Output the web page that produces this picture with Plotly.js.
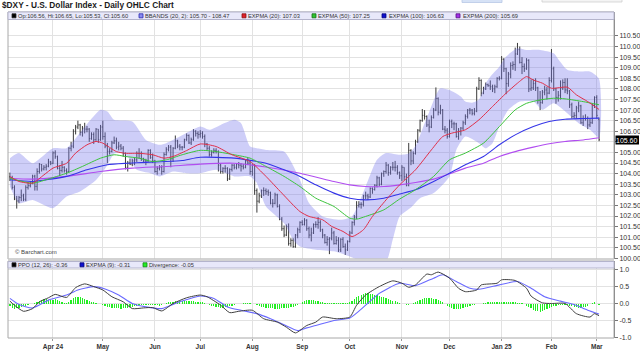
<!DOCTYPE html>
<html><head><meta charset="utf-8">
<script src="https://cdn.plot.ly/plotly-3.0.1.min.js"></script>
<style>html,body{margin:0;padding:0;background:#fff;}#chart{width:640px;height:351px;}</style>
</head><body><div id="chart"></div>
<script>
// Trading-day index: 0 = Apr 1 2024, first bar (-19) = Mar 5 2024, last bar (241) = Mar 4 2025
const firstIdx = -19;
const monthTickIdx = [0,22,45,65,88,110,131,154,175,198,220,240];
const monthTickText = ["Apr 24","May","Jun","Jul","Aug","Sep","Oct","Nov","Dec","Jan 25","Feb","Mar"];
const priceTicks = [100,100.5,101,101.5,102,102.5,103,103.5,104,104.5,105,105.5,106,106.5,107,107.5,108,108.5,109,109.5,110,110.5];
const ppoTicks = [-1,-0.5,0,0.5,1];

const open = [
103.85,103.80,103.35,102.80,102.71,102.87,102.95,102.79,103.35,103.43,103.58,103.88,103.40,104.10,104.43,104.22,104.30,104.35,104.55,
104.49,104.98,104.80,104.25,104.15,104.30,104.15,104.10,105.20,105.30,106.00,106.20,106.30,105.95,106.15,106.10,106.10,105.65,105.85,105.60,106.10,105.60,
106.20,105.75,105.30,105.05,105.05,105.45,105.55,105.25,105.30,105.20,104.95,104.30,104.50,104.45,104.60,104.65,104.95,104.95,104.70,104.60,104.60,105.10,104.75,
104.60,104.10,104.25,104.30,104.10,104.90,105.15,105.25,104.70,105.20,105.55,105.30,105.25,105.25,105.60,105.80,105.45,105.60,106.00,105.90,
105.85,105.90,105.75,105.40,105.20,104.90,105.00,105.10,105.05,104.40,104.10,104.25,104.25,103.75,104.20,104.40,104.30,104.45,104.40,104.35,104.30,104.60,104.50,
104.10,104.40,103.20,102.70,102.95,103.20,103.20,103.15,103.10,102.60,102.60,103.00,102.45,101.85,101.40,101.10,101.50,100.70,100.85,100.55,101.10,101.35,
101.70,101.60,101.80,101.40,101.10,101.20,101.60,101.60,101.70,101.35,101.10,100.75,100.90,100.95,101.20,100.70,100.85,100.40,100.90,100.55,100.40,
100.80,101.20,101.70,101.95,102.50,102.55,102.55,102.95,102.95,102.90,103.30,103.25,103.45,103.80,103.50,104.00,104.10,104.40,104.05,104.30,104.30,104.30,104.05,
103.90,104.30,103.85,103.45,105.10,104.60,104.95,105.50,106.05,106.50,106.75,106.70,106.30,106.20,106.65,107.00,107.55,106.90,107.00,106.10,106.05,
105.75,106.45,106.35,106.35,105.75,106.00,106.15,106.40,106.70,107.00,107.00,106.85,106.95,108.00,108.40,107.80,108.00,108.20,108.15,108.10,108.00,108.10,
108.50,108.50,109.40,108.95,108.25,108.70,109.10,109.15,109.65,109.85,109.25,109.05,108.95,109.35,108.00,108.05,108.25,108.05,107.45,107.35,107.85,107.95,107.80,
108.40,108.95,108.00,107.60,107.70,108.05,108.30,107.95,107.90,107.25,106.70,106.75,107.10,107.20,106.40,106.60,106.60,106.30,106.40,107.25,
107.60,106.56];
const high = [
104.05,103.90,103.45,102.95,102.95,103.25,103.05,103.45,103.60,103.65,103.95,103.95,104.25,104.50,104.45,104.40,104.45,104.70,104.60,
105.05,105.10,104.85,104.40,104.60,104.35,104.25,105.25,105.50,106.10,106.30,106.50,106.35,106.25,106.40,106.25,106.15,105.95,105.95,106.15,106.10,106.30,
106.50,105.95,105.45,105.20,105.55,105.75,105.70,105.50,105.40,105.30,105.00,104.60,104.70,104.70,104.75,105.05,105.20,105.05,104.75,104.70,105.15,105.15,104.95,
104.65,104.35,104.40,104.40,105.00,105.25,105.35,105.35,105.25,105.80,105.60,105.40,105.30,105.65,105.90,105.85,105.70,106.10,106.05,106.00,
106.05,106.00,105.85,105.45,105.30,105.10,105.20,105.20,105.10,104.50,104.30,104.40,104.30,104.25,104.45,104.45,104.50,104.55,104.50,104.45,104.65,104.75,104.60,
104.45,104.45,103.30,103.10,103.25,103.35,103.30,103.25,103.15,102.80,103.10,103.05,102.55,101.95,101.55,101.60,101.65,100.95,100.95,101.15,101.45,101.75,
101.80,101.90,101.85,101.50,101.45,101.65,101.75,101.95,101.80,101.40,101.15,101.05,101.00,101.45,101.30,101.05,101.00,100.95,101.00,100.70,100.85,
101.30,101.75,102.05,102.70,102.70,102.65,103.00,103.15,103.05,103.35,103.35,103.50,103.90,103.85,104.05,104.15,104.55,104.45,104.35,104.55,104.60,104.40,104.10,
104.40,104.30,104.00,105.45,105.15,105.05,105.60,106.10,106.55,107.05,107.00,106.75,106.55,106.75,107.10,108.07,107.60,107.25,107.05,106.25,106.15,
106.55,106.55,106.45,106.40,106.15,106.20,106.50,106.80,107.05,107.10,107.05,107.10,108.10,108.55,108.45,108.10,108.30,108.25,108.40,108.20,108.20,108.55,
108.60,109.55,109.45,109.00,108.80,109.25,109.30,109.95,110.17,110.00,109.50,109.20,109.45,109.40,108.45,108.45,108.50,108.10,107.90,107.95,108.15,108.10,108.55,
109.88,109.05,108.05,107.90,108.40,108.45,108.50,108.50,107.95,107.35,106.90,107.20,107.40,107.25,106.75,106.80,106.70,106.60,107.30,107.65,
107.70,106.65];
const low = [
103.65,103.25,102.75,102.35,102.60,102.70,102.70,102.70,103.25,103.35,103.50,103.20,103.20,104.00,104.10,104.15,104.15,104.30,104.40,
104.45,104.70,104.20,103.90,104.05,104.05,103.95,104.05,105.05,105.20,105.85,106.10,105.80,105.75,105.90,105.95,105.50,105.60,105.40,105.55,105.45,105.55,
105.60,105.20,104.50,104.90,105.00,105.40,105.15,105.10,105.10,104.80,104.20,104.10,104.40,104.35,104.40,104.55,104.70,104.60,104.50,104.40,104.55,104.70,104.50,
104.05,103.95,104.15,103.95,104.05,104.85,105.05,104.30,104.55,105.15,105.20,105.10,105.10,105.20,105.55,105.40,105.35,105.55,105.75,105.65,
105.70,105.65,105.25,105.10,104.80,104.80,104.95,104.95,104.10,104.00,104.00,104.05,103.65,103.70,104.10,104.20,104.20,104.25,104.10,104.20,104.25,104.40,103.95,
103.90,103.00,102.16,102.60,102.85,102.95,103.00,102.95,102.55,102.40,102.55,102.40,101.80,101.30,101.00,101.05,100.60,100.55,100.50,100.50,100.95,101.20,
101.55,101.55,101.30,100.95,100.80,101.15,101.45,101.40,101.25,100.95,100.70,100.60,100.20,100.85,100.65,100.65,100.30,100.30,100.50,100.16,100.35,
100.75,101.15,101.55,101.85,102.40,102.35,102.45,102.80,102.75,102.85,103.05,103.20,103.35,103.40,103.45,103.85,104.00,103.90,103.95,104.15,104.10,103.95,103.75,
103.65,103.70,103.40,103.40,104.40,104.45,104.90,105.45,105.95,106.45,106.55,106.20,105.95,106.15,106.60,106.95,106.75,106.80,106.05,105.90,105.65,
105.70,106.15,106.05,105.70,105.60,105.80,106.05,106.30,106.60,106.80,106.75,106.75,106.90,107.95,107.65,107.75,107.95,108.10,107.95,107.85,107.80,108.05,
108.40,108.45,108.80,107.75,108.10,108.50,108.90,108.85,109.60,109.20,108.70,108.80,108.90,107.85,107.90,107.95,107.90,107.30,107.00,107.30,107.70,107.50,107.75,
108.30,107.90,107.30,107.40,107.50,107.95,107.80,107.75,107.10,106.60,106.60,106.60,106.90,106.35,106.25,106.50,106.10,106.20,106.35,107.10,
106.60,105.53];
const close = [
103.80,103.35,102.80,102.71,102.87,102.95,102.79,103.35,103.43,103.58,103.88,103.40,104.10,104.43,104.22,104.30,104.35,104.55,104.49,
104.98,104.80,104.25,104.15,104.30,104.15,104.10,105.20,105.30,106.00,106.20,106.30,105.95,106.15,106.10,106.10,105.65,105.85,105.60,106.10,105.60,106.20,
105.75,105.30,105.05,105.05,105.45,105.55,105.25,105.30,105.20,104.95,104.30,104.50,104.45,104.60,104.65,104.95,104.95,104.70,104.60,104.60,105.10,104.75,104.60,
104.10,104.25,104.30,104.10,104.90,105.15,105.25,104.70,105.20,105.55,105.30,105.25,105.25,105.60,105.80,105.45,105.60,106.00,105.90,105.85,
105.90,105.75,105.40,105.20,104.90,105.00,105.10,105.05,104.40,104.10,104.25,104.25,103.75,104.20,104.40,104.30,104.45,104.40,104.35,104.30,104.60,104.50,104.10,
104.40,103.20,102.70,102.95,103.20,103.20,103.15,103.10,102.60,102.60,103.00,102.45,101.85,101.40,101.10,101.50,100.70,100.85,100.55,101.10,101.35,101.70,
101.60,101.80,101.40,101.10,101.20,101.60,101.60,101.70,101.35,101.10,100.75,100.90,100.95,101.20,100.70,100.85,100.40,100.90,100.55,100.40,100.80,
101.20,101.70,101.95,102.50,102.55,102.55,102.95,102.95,102.90,103.30,103.25,103.45,103.80,103.50,104.00,104.10,104.40,104.05,104.30,104.30,104.30,104.05,103.90,
104.30,103.85,103.45,105.10,104.60,104.95,105.50,106.05,106.50,106.75,106.70,106.30,106.20,106.65,107.00,107.55,106.90,107.00,106.10,106.05,105.75,
106.45,106.35,106.35,105.75,106.00,106.15,106.40,106.70,107.00,107.00,106.85,106.95,108.00,108.40,107.80,108.00,108.20,108.15,108.10,108.00,108.10,108.50,
108.50,109.40,108.95,108.25,108.70,109.10,109.15,109.65,109.85,109.25,109.05,108.95,109.35,108.00,108.05,108.25,108.05,107.45,107.35,107.85,107.95,107.80,108.40,
108.95,108.00,107.60,107.70,108.05,108.30,107.95,107.90,107.25,106.70,106.75,107.10,107.20,106.40,106.60,106.60,106.30,106.40,107.25,107.60,
106.75,105.60];

// Indicator lines (x = trading-day index)
const ema20X = [-19,-15,-9,-4,0,6,10,15,19,22,28,32,38,44,49,53,59,65,72,79,87,94,101,109,113,119,123,128,132,137,141,147,153,160,167,172,176,182,188,194,200,205,209,212,216,220,227,231,236,241];
const ema20Y = [103.86,103.63,103.55,103.94,104.26,104.49,104.97,105.36,105.52,105.44,105.04,104.96,104.96,104.89,104.73,104.81,105.09,105.40,105.28,104.89,104.57,103.87,103.08,102.21,101.98,101.82,101.51,101.27,101.03,101.35,101.98,102.76,103.47,104.18,105.12,105.75,105.91,106.07,106.54,107.17,107.80,108.27,108.58,108.42,108.27,108.03,108.08,107.72,107.40,107.03];
const ema50X = [-19,-9,-1,6,13,21,27,32,38,44,50,57,65,72,80,87,94,102,109,116,124,131,134,138,146,153,160,168,175,182,190,197,204,209,215,221,226,234,241];
const ema50Y = [103.78,103.55,103.78,104.02,104.34,104.73,104.89,104.81,104.73,104.57,104.65,104.89,105.10,105.04,104.89,104.73,104.34,103.87,103.39,102.84,102.45,101.90,101.85,101.98,102.29,102.80,103.24,103.87,104.65,104.97,105.44,106.22,107.01,107.32,107.48,107.56,107.53,107.40,107.25];
const ema100X = [-19,-9,-1,6,15,24,33,41,50,57,65,80,94,102,109,116,124,131,138,146,153,160,168,175,182,190,197,204,212,219,226,234,241];
const ema100Y = [103.71,103.63,103.74,103.87,104.18,104.42,104.49,104.53,104.57,104.62,104.77,104.73,104.49,104.18,103.87,103.47,103.08,102.84,102.76,102.84,103.04,103.24,103.63,104.02,104.42,104.81,105.36,105.83,106.22,106.46,106.57,106.60,106.62];
const ema200X = [-19,-9,6,21,35,50,65,80,94,109,124,131,138,146,153,160,168,175,182,190,197,204,212,219,226,234,241];
const ema200Y = [103.78,103.74,103.87,104.10,104.26,104.34,104.45,104.49,104.31,104.02,103.63,103.47,103.39,103.39,103.47,103.58,103.74,103.99,104.26,104.49,104.81,105.04,105.25,105.41,105.52,105.59,105.69];
const bbUpX = [-19,-15,-9,0,6,13,21,24,27,35,41,47,50,56,65,69,74,80,83,87,90,94,102,109,113,119,127,132,138,143,147,153,157,160,163,166,169,171,175,180,182,185,188,191,194,197,200,205,209,215,221,223,227,232,237,241];
const bbUpY = [104.73,104.97,104.49,105.20,105.20,106.07,107.01,106.93,106.54,106.46,105.59,105.36,105.44,105.75,106.22,106.07,106.30,106.54,106.38,105.28,105.20,105.12,105.04,103.71,102.61,101.98,101.82,101.98,103.39,104.65,104.97,104.89,104.95,105.30,106.10,106.90,107.70,108.03,107.95,107.64,107.40,107.35,107.50,108.27,108.70,109.05,109.53,109.92,109.84,109.84,109.68,109.40,108.90,108.82,108.82,108.47];
const bbLoX = [-19,-15,-9,0,6,12,19,24,27,30,33,37,43,47,53,59,65,72,80,87,90,94,102,106,109,116,124,131,135,141,147,150,153,158,162,168,175,178,182,188,191,194,197,201,206,212,216,221,227,232,237,241];
const bbLoY = [103.39,102.61,102.76,102.37,102.92,103.16,103.70,104.40,104.95,104.98,104.80,104.18,104.02,103.87,104.10,104.02,104.02,104.18,103.87,103.87,103.55,102.45,101.66,100.88,100.56,100.41,100.33,100.09,99.90,99.75,99.85,100.90,101.98,102.40,102.84,103.08,103.87,105.12,105.75,105.44,105.20,105.44,106.22,107.01,107.40,107.40,107.01,107.32,106.85,106.38,106.07,105.70];
const ppoX = [-19,-17,-13,-9,-6,-2,1,6,10,14,18,22,26,31,35,40,44,48,53,59,65,68,74,78,82,88,93,99,103,107,112,116,119,125,131,134,138,144,150,154,157,160,165,167,170,175,179,182,187,189,196,198,204,209,211,216,220,226,231,237,239,241];
const ppoY = [0.07,-0.05,-0.23,-0.15,0.05,0.17,0.27,0.18,0.47,0.58,0.50,0.40,0.20,0.05,-0.15,-0.13,-0.12,-0.22,0.00,0.17,0.25,0.20,-0.05,-0.27,-0.23,-0.20,-0.45,-0.55,-0.70,-0.87,-0.65,-0.55,-0.40,-0.45,-0.40,-0.05,0.25,0.50,0.67,0.60,0.48,0.55,0.87,0.85,0.93,0.75,0.45,0.35,0.40,0.55,0.60,0.70,0.68,0.45,0.22,0.02,0.00,0.00,-0.30,-0.40,-0.30,-0.36];
const sigX = [-19,-15,-9,-2,6,11,18,23,29,35,41,48,56,65,71,77,83,90,96,102,108,112,116,124,131,138,144,153,160,168,172,178,184,188,197,205,211,217,224,230,236,241];
const sigY = [0.15,-0.03,-0.13,0.10,0.25,0.40,0.50,0.43,0.25,0.00,-0.10,-0.15,0.05,0.22,0.15,-0.10,-0.20,-0.30,-0.45,-0.63,-0.80,-0.72,-0.65,-0.50,-0.43,-0.05,0.30,0.60,0.53,0.75,0.85,0.65,0.45,0.42,0.55,0.65,0.45,0.20,0.07,-0.03,-0.20,-0.31];
const divergence = [
-0.08,-0.12,-0.15,-0.14,-0.12,-0.10,
-0.08,-0.06,-0.04,-0.02,-0.01,
0.02,0.05,0.08,0.10,0.12,0.12,0.11,0.10,0.11,0.12,0.10,
0.06,0.03,0.02,0.02,0.05,
0.10,0.15,0.18,0.20,0.19,0.17,0.14,0.10,0.08,
0.05,0.04,0.02,0.00,-0.02,
-0.04,-0.07,-0.10,-0.11,-0.12,-0.13,-0.13,-0.14,-0.15,-0.14,-0.13,-0.12,-0.10,-0.09,
-0.07,-0.06,-0.05,-0.05,-0.04,-0.04,-0.03,-0.03,-0.03,
-0.04,-0.05,-0.06,-0.05,-0.02,0.01,
0.03,0.04,0.05,0.06,0.07,0.07,0.08,0.08,0.08,0.07,0.07,0.06,0.05,0.05,0.04,0.03,0.02,
-0.01,-0.04,-0.06,-0.08,-0.10,-0.11,-0.12,-0.12,-0.11,-0.10,-0.08,-0.06,-0.04,
-0.02,-0.01,0.00,0.01,0.02,0.02,0.01,0.00,-0.02,
-0.05,-0.08,-0.10,-0.11,-0.12,-0.13,-0.14,-0.14,-0.15,-0.15,-0.15,-0.14,-0.13,-0.12,-0.12,-0.11,-0.10,-0.08,-0.05,
0.00,0.04,0.07,0.09,0.10,0.10,0.09,0.08,0.07,0.05,
0.03,0.02,0.02,0.01,0.01,0.01,0.02,0.02,0.02,0.02,0.02,0.02,0.04,
0.08,0.14,0.19,0.23,0.26,0.28,0.30,0.30,0.29,0.28,0.26,0.24,0.22,0.20,0.18,0.16,0.14,0.11,0.08,0.06,0.04,0.02,
0.00,-0.02,-0.04,-0.03,-0.01,0.01,0.04,
0.08,0.11,0.14,0.16,0.17,0.16,0.15,0.13,0.12,0.10,0.07,
0.03,-0.02,-0.06,-0.10,-0.13,-0.15,-0.16,-0.16,-0.15,-0.13,-0.11,-0.09,-0.07,-0.05,-0.04,-0.02,-0.01,0.00,0.01,
0.02,0.03,0.03,0.04,0.04,0.05,0.05,0.05,0.04,0.04,0.03,0.03,0.03,0.03,0.02,0.02,0.01,
-0.02,-0.06,-0.10,-0.14,-0.18,-0.21,-0.23,-0.24,-0.23,-0.20,-0.17,-0.14,-0.11,-0.08,-0.06,
-0.05,-0.04,-0.03,-0.03,-0.04,
-0.06,-0.08,-0.10,-0.11,-0.12,-0.12,-0.11,-0.09,-0.06,
-0.02,0.02,0.03,-0.01,-0.05];

const lastPrice = 105.60;

// ---------- build ----------
const idx = open.map((_, k) => firstIdx + k);
const PX = p => (p - 8) / 606;     // pixel -> paper x
const PY = p => (338 - p) / 326;   // pixel -> paper y
const FONT = 'Liberation Sans, Arial, sans-serif';

const bandX = bbUpX.concat(bbLoX.slice().reverse());
const bandY = bbUpY.concat(bbLoY.slice().reverse());

const traces = [
  {type:'scatter', x:bandX, y:bandY, mode:'lines', fill:'toself', fillcolor:'rgba(120,120,235,0.36)',
   line:{width:0, shape:'spline', smoothing:0.6}, xaxis:'x', yaxis:'y', hoverinfo:'skip'},
  {type:'scatter', x:ema200X, y:ema200Y, mode:'lines', line:{color:'#b14df0', width:1.1, shape:'spline', smoothing:0.6}, xaxis:'x', yaxis:'y'},
  {type:'scatter', x:ema100X, y:ema100Y, mode:'lines', line:{color:'#3434e8', width:1.1, shape:'spline', smoothing:0.6}, xaxis:'x', yaxis:'y'},
  {type:'scatter', x:ema50X, y:ema50Y, mode:'lines', line:{color:'#3cc43c', width:1, shape:'spline', smoothing:0.6}, xaxis:'x', yaxis:'y'},
  {type:'scatter', x:ema20X, y:ema20Y, mode:'lines', line:{color:'#e0304a', width:1, shape:'spline', smoothing:0.6}, xaxis:'x', yaxis:'y'},
  {type:'ohlc', x:idx, open:open, high:high, low:low, close:close, tickwidth:0.35,
   increasing:{line:{color:'#3a3a3a', width:1}}, decreasing:{line:{color:'#3a3a3a', width:1}},
   xaxis:'x', yaxis:'y', hoverinfo:'skip'},
  {type:'bar', x:idx, y:divergence, width:0.55, marker:{color:'#22ee22', line:{width:0}}, xaxis:'x', yaxis:'y2'},
  {type:'scatter', x:sigX, y:sigY, mode:'lines', line:{color:'#6a6aff', width:1.1, shape:'spline', smoothing:0.6}, xaxis:'x', yaxis:'y2'},
  {type:'scatter', x:ppoX, y:ppoY, mode:'lines', line:{color:'#404040', width:1, shape:'spline', smoothing:0.6}, xaxis:'x', yaxis:'y2'}
];

const shapes = [];
const rectPx = (x0,y0,x1,y1,fill,lineColor,lw,layer) => shapes.push({type:'rect', xref:'paper', yref:'paper',
  x0:PX(x0), x1:PX(x1), y0:PY(y1), y1:PY(y0), fillcolor:fill, line:{color:lineColor||fill, width:lw===undefined?1:lw}, layer:layer||'above'});

// panel frames, separator and legend strips
rectPx(8,12,614,259,'rgba(0,0,0,0)','#a8a8a8',1);
rectPx(8,261,614,338,'rgba(0,0,0,0)','#a8a8a8',1);
rectPx(8,258.5,614,261.5,'#d2d2d2','#d2d2d2',0);
rectPx(8,12,614,19.5,'#e8e8fa','#b4b4cc',1);
rectPx(8,261.5,614,268,'#e8e8fa','#b4b4cc',1);
// legend squares
const sq = (x,y,c,b) => rectPx(x,y,x+4,y+4,c,b||'#222',0.8);
sq(12,13.8,'#000000'); sq(139,13.8,'#8c8cf0','#2a2ab0'); sq(242,13.8,'#e0202a','#8a1010');
sq(312,13.8,'#2ec42e','#157015'); sq(382,13.8,'#1010d0','#05057a'); sq(456,13.8,'#a030e8','#5a1080');
sq(12,262.8,'#000000'); sq(80,262.8,'#1010d0','#05057a'); sq(143,262.8,'#22ee22','#138813');
// last price marker
rectPx(615.5,135.5,639,144.5,'#000000','#000000',0);
// UI remnants at very top
rectPx(462,-1,502,2.5,'#d6e2f6','#b8c8e6',0.8);
rectPx(542,-1,622,2,'#f4f4f4','#cfcfcf',0.8);

const ann = [];
const txt = (t,x,y,size,color,anchor,extra) => ann.push(Object.assign({text:t, xref:'paper', yref:'paper', x:PX(x), y:PY(y),
  xanchor:anchor||'left', yanchor:'middle', showarrow:false, font:{family:FONT, size:size, color:color||'#333'}, borderpad:0}, extra||{}));

const LS = 5.7;
txt('<b>$DXY - U.S. Dollar Index - Daily OHLC Chart</b>', 1, 5, 8.3, '#1a1a1a');
txt('Op:106.56, Hi:106.65, Lo:105.53, Cl:105.60', 17, 15.8, LS, '#333');
txt('BBANDS (20, 2): 105.70 - 108.47', 144, 15.8, LS, '#333');
txt('EXPMA (20): 107.03', 247, 15.8, LS, '#333');
txt('EXPMA (50): 107.25', 317, 15.8, LS, '#333');
txt('EXPMA (100): 106.63', 388, 15.8, LS, '#333');
txt('EXPMA (200): 105.69', 462, 15.8, LS, '#333');
txt('PPO (12, 26): -0.36', 17, 264.8, LS, '#333');
txt('EXPMA (9): -0.31', 85, 264.8, LS, '#333');
txt('Divergence: -0.05', 148, 264.8, LS, '#333');
txt('© Barchart.com', 14, 252, 6, '#444');
txt(lastPrice.toFixed(2), 627.3, 140.2, 7, '#ffffff', 'center');

const lens = [open.length, high.length, low.length, close.length, divergence.length];
if (lens.some(l => l !== 261)) txt('LEN ' + lens.join(','), 300, 100, 12, 'red');

const layout = {
  width:640, height:351, margin:{l:8, r:26, t:12, b:13},
  paper_bgcolor:'#ffffff', plot_bgcolor:'#ffffff', showlegend:false, hovermode:false, bargap:0,
  font:{family:FONT, size:7, color:'#333'},
  xaxis:{domain:[0,1], anchor:'y2', range:[-19.85, 247.6], tickmode:'array', tickvals:monthTickIdx,
    ticktext:monthTickText.map(s => '<b>'+s+'</b>'), showgrid:true, gridcolor:'#e2e2e2', gridwidth:1,
    ticks:'outside', ticklen:2, tickcolor:'#999', tickfont:{size:6.5, color:'#333'},
    zeroline:false, showline:false, rangeslider:{visible:false}, fixedrange:true},
  yaxis:{domain:[PY(259), 1], anchor:'x', side:'right', range:[99.97, 111.63], tickmode:'array',
    tickvals:priceTicks, ticktext:priceTicks.map(v => Math.abs(v - lastPrice) < 0.2 ? '' : v.toFixed(2)), showgrid:true, gridcolor:'#e2e2e2',
    ticks:'outside', ticklen:3, tickcolor:'#777', tickfont:{size:7, color:'#333'},
    zeroline:false, showline:true, linecolor:'#777', linewidth:1, fixedrange:true},
  yaxis2:{domain:[0, PY(261)], anchor:'x', side:'right', range:[-1.02, 1.257], tickmode:'array',
    tickvals:ppoTicks, ticktext:ppoTicks.map(v => v.toFixed(1)), showgrid:true, gridcolor:'#e2e2e2',
    ticks:'outside', ticklen:3, tickcolor:'#777', tickfont:{size:7, color:'#333'},
    zeroline:false, showline:true, linecolor:'#777', linewidth:1, fixedrange:true},
  shapes:shapes, annotations:ann
};

Plotly.newPlot('chart', traces, layout, {staticPlot:true, displayModeBar:false});
</script>
</body></html>
